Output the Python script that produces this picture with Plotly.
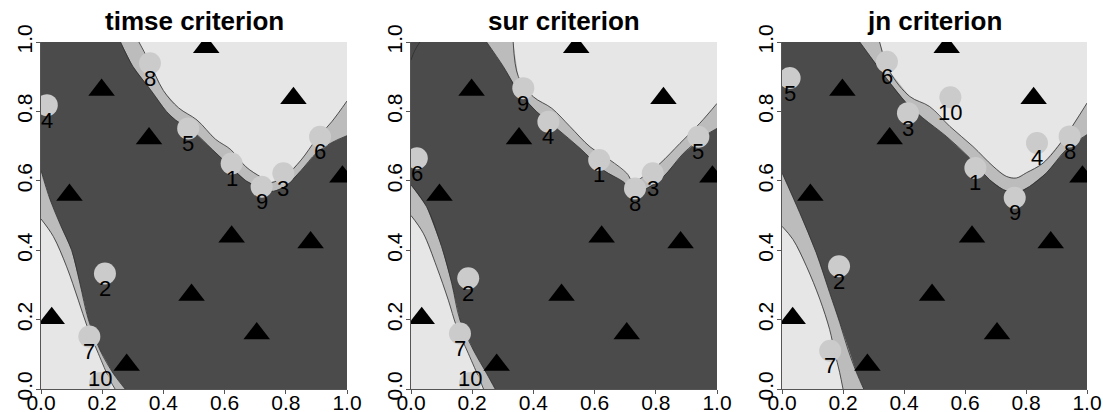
import plotly.graph_objects as go

# initial design (black triangles), same in all three panels
tri_x = [0.540, 0.198, 0.825, 0.353, 0.985, 0.093, 0.623, 0.881, 0.492, 0.035, 0.705, 0.280]
tri_y = [0.985, 0.862, 0.838, 0.722, 0.612, 0.559, 0.439, 0.422, 0.271, 0.204, 0.160, 0.069]

# new points, in order 1..10
timse_x = [0.623, 0.209, 0.792, 0.019, 0.481, 0.912, 0.158, 0.356, 0.721, 0.193]
timse_y = [0.650, 0.333, 0.622, 0.818, 0.751, 0.727, 0.151, 0.939, 0.583, 0.017]
sur_x = [0.615, 0.187, 0.790, 0.449, 0.939, 0.019, 0.160, 0.732, 0.367, 0.193]
sur_y = [0.660, 0.319, 0.622, 0.770, 0.727, 0.665, 0.160, 0.578, 0.867, 0.017]
jn_x = [0.634, 0.187, 0.413, 0.836, 0.025, 0.344, 0.158, 0.943, 0.763, 0.552]
jn_y = [0.637, 0.354, 0.795, 0.709, 0.896, 0.943, 0.110, 0.728, 0.551, 0.841]

# excursion set boundaries: light edge / dark edge
timse_top_light = [(0.32, 1.0), (0.35, 0.95), (0.40, 0.86), (0.45, 0.81), (0.51, 0.775), (0.57, 0.72),
                   (0.62, 0.69), (0.67, 0.64), (0.72, 0.61), (0.75, 0.595), (0.80, 0.615), (0.85, 0.66),
                   (0.90, 0.72), (0.95, 0.77), (1.0, 0.83)]
timse_top_dark = [(0.26, 1.0), (0.30, 0.93), (0.36, 0.86), (0.41, 0.80), (0.44, 0.775), (0.50, 0.74),
                  (0.56, 0.69), (0.62, 0.64), (0.67, 0.60), (0.73, 0.575), (0.76, 0.57), (0.80, 0.585),
                  (0.85, 0.63), (0.90, 0.68), (0.95, 0.71), (1.0, 0.73)]
timse_low_light = [(0.0, 0.49), (0.04, 0.44), (0.084, 0.352), (0.122, 0.256), (0.151, 0.18),
                   (0.187, 0.103), (0.225, 0.026), (0.242, 0.0)]
timse_low_dark = [(0.0, 0.63), (0.03, 0.545), (0.065, 0.47), (0.10, 0.40), (0.127, 0.305),
                  (0.155, 0.20), (0.193, 0.112), (0.236, 0.045), (0.275, 0.0)]

sur_top_light = [(0.334, 1.0), (0.351, 0.900), (0.400, 0.842), (0.460, 0.809), (0.520, 0.756),
                 (0.585, 0.698), (0.650, 0.660), (0.705, 0.622), (0.726, 0.597), (0.759, 0.612),
                 (0.814, 0.650), (0.879, 0.708), (0.944, 0.766), (1.0, 0.823)]
sur_top_dark = [(0.247, 1.0), (0.302, 0.929), (0.351, 0.857), (0.411, 0.799), (0.476, 0.751),
                (0.552, 0.694), (0.628, 0.631), (0.694, 0.597), (0.726, 0.569), (0.770, 0.578),
                (0.825, 0.612), (0.890, 0.679), (0.955, 0.727), (1.0, 0.751)]
sur_low_light = [(0.0, 0.50), (0.040, 0.449), (0.084, 0.352), (0.122, 0.256), (0.149, 0.180),
                 (0.187, 0.103), (0.225, 0.026), (0.237, 0.0)]
sur_low_dark = [(0.0, 0.588), (0.051, 0.525), (0.100, 0.410), (0.133, 0.305), (0.160, 0.199),
                (0.204, 0.112), (0.247, 0.045), (0.275, 0.0)]
sur_corner = [(0.0, 0.948), (0.012, 0.975), (0.029, 1.0)]

jn_top_light = [(0.320, 1.0), (0.353, 0.915), (0.419, 0.843), (0.484, 0.814), (0.550, 0.757),
                (0.626, 0.699), (0.692, 0.642), (0.735, 0.613), (0.768, 0.608), (0.801, 0.623),
                (0.856, 0.651), (0.921, 0.718), (1.0, 0.824)]
jn_top_dark = [(0.255, 1.0), (0.298, 0.948), (0.342, 0.896), (0.408, 0.824), (0.462, 0.781),
               (0.539, 0.728), (0.615, 0.666), (0.681, 0.603), (0.725, 0.575), (0.768, 0.565),
               (0.812, 0.584), (0.867, 0.623), (0.932, 0.690), (1.0, 0.733)]
jn_low_light = [(0.0, 0.469), (0.036, 0.431), (0.080, 0.354), (0.124, 0.259), (0.156, 0.172),
                (0.173, 0.105), (0.189, 0.048), (0.200, 0.0)]
jn_low_dark = [(0.0, 0.623), (0.058, 0.508), (0.112, 0.393), (0.156, 0.278), (0.189, 0.192),
               (0.216, 0.115), (0.244, 0.048), (0.268, 0.0)]

titles = ["timse criterion", "sur criterion", "jn criterion"]
ticks = [0, 0.2, 0.4, 0.6, 0.8, 1.0]
tick_text = ["0.0", "0.2", "0.4", "0.6", "0.8", "1.0"]

panels = [
    (timse_x, timse_y, timse_top_light, timse_top_dark, timse_low_light, timse_low_dark, []),
    (sur_x, sur_y, sur_top_light, sur_top_dark, sur_low_light, sur_low_dark, sur_corner),
    (jn_x, jn_y, jn_top_light, jn_top_dark, jn_low_light, jn_low_dark, []),
]

DARK = "#4b4b4b"
LIGHT = "#e6e6e6"
BAND = "#bcbcbc"
LINE = "#2e2e2e"
FONT = "Liberation Sans"

x_domains = [[41 / 1103, 347 / 1103], [411 / 1103, 717 / 1103], [782 / 1103, 1087 / 1103]]
y_domain = [1 - 389 / 412, 1 - 42 / 412]

fig = go.Figure()
annotations = []


def poly(pts, corner):
    xs = [p[0] for p in pts] + [corner[0]]
    ys = [p[1] for p in pts] + [corner[1]]
    return xs, ys


for i, (px, py, top_l, top_d, low_l, low_d, extra) in enumerate(panels):
    xa = "x" if i == 0 else "x%d" % (i + 1)
    ya = "y" if i == 0 else "y%d" % (i + 1)

    # transition band then light excursion region
    for pts, corner, col in [(top_d, (1, 1), BAND), (low_d, (0, 0), BAND),
                             (top_l, (1, 1), LIGHT), (low_l, (0, 0), LIGHT)]:
        xs, ys = poly(pts, corner)
        fig.add_trace(go.Scatter(x=xs, y=ys, fill="toself", fillcolor=col, mode="lines",
                                 line=dict(width=0), hoverinfo="skip", showlegend=False,
                                 xaxis=xa, yaxis=ya))
    # contour lines
    for pts in [top_l, top_d, low_l, low_d, extra]:
        if not pts:
            continue
        fig.add_trace(go.Scatter(x=[p[0] for p in pts], y=[p[1] for p in pts], mode="lines",
                                 line=dict(color=LINE, width=0.8, shape="spline"),
                                 hoverinfo="skip", showlegend=False, xaxis=xa, yaxis=ya))

    fig.add_trace(go.Scatter(x=tri_x, y=tri_y, mode="markers",
                             marker=dict(symbol="triangle-up", size=23, color="black"),
                             showlegend=False, xaxis=xa, yaxis=ya))
    fig.add_trace(go.Scatter(x=px, y=py, mode="markers",
                             marker=dict(symbol="circle", size=22, color="#cbcbcb"),
                             showlegend=False, xaxis=xa, yaxis=ya))

    for k in range(len(px)):
        # labels go under the point, except at the bottom edge where they sit on it
        shift = -15 if py[k] > 0.05 else 5
        annotations.append(dict(x=px[k], y=py[k], xref=xa, yref=ya, text=str(k + 1),
                                showarrow=False, yshift=shift,
                                font=dict(family=FONT, size=22, color="black")))

    annotations.append(dict(x=sum(x_domains[i]) / 2, y=1 - 21 / 412, xref="paper", yref="paper",
                            xanchor="center", yanchor="middle",
                            text="<b>%s</b>" % titles[i], showarrow=False,
                            font=dict(family=FONT, size=26, color="black")))

    axis_common = dict(range=[0, 1], tickvals=ticks, ticktext=tick_text, ticks="outside",
                       ticklen=4, tickcolor="#555555", showline=True, linecolor="#555555",
                       linewidth=1, showgrid=False, zeroline=False, automargin=False,
                       tickfont=dict(family=FONT, size=21, color="black"), fixedrange=True)
    fig.update_layout(**{
        ("xaxis" if i == 0 else "xaxis%d" % (i + 1)): dict(axis_common, domain=x_domains[i], anchor=ya,
                                                            ticklabelstandoff=-9),
        ("yaxis" if i == 0 else "yaxis%d" % (i + 1)): dict(axis_common, domain=y_domain, anchor=xa,
                                                            tickangle=-90, ticklabelstandoff=-4),
    })

fig.update_layout(
    width=1103, height=412, margin=dict(l=0, r=0, t=0, b=0),
    paper_bgcolor="white", plot_bgcolor=DARK,
    annotations=annotations,
)

fig.write_html("out.html", config={"displayModeBar": False},
               post_script="document.body.style.margin='0';")
